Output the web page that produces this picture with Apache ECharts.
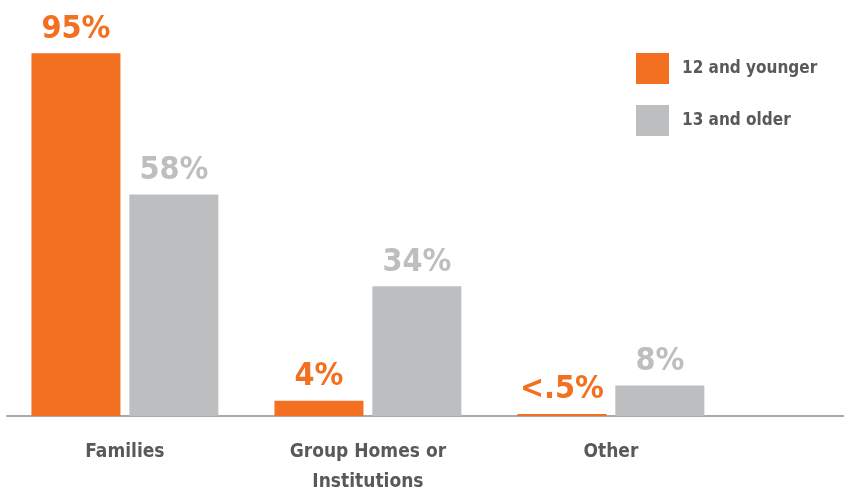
<!DOCTYPE html>
<html>
<head>
<meta charset="utf-8">
<script src="https://cdn.jsdelivr.net/npm/echarts@6/dist/echarts.min.js"></script>
<style>
  html, body { margin: 0; padding: 0; background: #fff; }
  #chart { width: 844px; height: 493px; }
</style>
</head>
<body>
<div id="chart"></div>
<script>
// 数据
const categories = ["Families", "Group Homes or\nInstitutions", "Other"];
const youngerValues = [95, 4, 0.5];
const olderValues = [58, 34, 8];
const youngerLabels = ["95%", "4%", "<.5%"];
const olderLabels = ["58%", "34%", "8%"];
const seriesNames = ["12 and younger", "13 and older"];

const FONT = "'DejaVu Sans Condensed', 'Liberation Sans Narrow', sans-serif";
const ORANGE = "#f37021";
const GRAY = "#bcbec0";
const TEXT = "#58595b";

let chart = echarts.init(document.getElementById("chart"));

const option = {
  animation: false,
  color: [ORANGE, GRAY],
  legend: {
    orient: "vertical",
    left: 636,
    top: 53,
    padding: 0,
    itemWidth: 33,
    itemHeight: 31,
    itemGap: 21,
    icon: "rect",
    data: seriesNames,
    textStyle: {
      fontFamily: FONT,
      fontSize: 17,
      fontWeight: "bold",
      color: TEXT,
      padding: [0, 0, 0, 8],
    },
  },
  grid: [
    // 柱子所在网格
    { left: 3.4, width: 729, top: 34.2, bottom: 77, outerBoundsMode: "none", containLabel: false },
    // 只画底部那条长横线
    { left: 7, right: 0, top: 34.2, bottom: 77, outerBoundsMode: "none", containLabel: false },
  ],
  xAxis: [
    {
      type: "category",
      data: categories,
      gridIndex: 0,
      axisLine: { show: false },
      axisTick: { show: false },
      axisLabel: {
        color: TEXT,
        fontFamily: FONT,
        fontSize: 19,
        fontWeight: "bold",
        lineHeight: 30,
        margin: 21,
      },
    },
    {
      type: "value",
      gridIndex: 1,
      min: 0,
      max: 1,
      axisLine: { show: true, onZero: false, lineStyle: { color: "#a7a9ac", width: 2 } },
      axisTick: { show: false },
      axisLabel: { show: false },
      splitLine: { show: false },
    },
  ],
  yAxis: [
    { type: "value", gridIndex: 0, min: 0, max: 100, show: false },
    { type: "value", gridIndex: 1, min: 0, max: 100, show: false },
  ],
  series: [
    {
      name: seriesNames[0],
      type: "bar",
      data: youngerValues,
      barWidth: 89,
      barGap: "10%",
      label: {
        show: true,
        position: "top",
        distance: 8,
        color: ORANGE,
        fontFamily: FONT,
        fontSize: 32,
        fontWeight: "bold",
        formatter: (p) => youngerLabels[p.dataIndex],
      },
    },
    {
      name: seriesNames[1],
      type: "bar",
      data: olderValues,
      barWidth: 89,
      label: {
        show: true,
        position: "top",
        distance: 8,
        color: GRAY,
        fontFamily: FONT,
        fontSize: 32,
        fontWeight: "bold",
        formatter: (p) => olderLabels[p.dataIndex],
      },
    },
  ],
};

chart.setOption(option);
</script>
</body>
</html>
